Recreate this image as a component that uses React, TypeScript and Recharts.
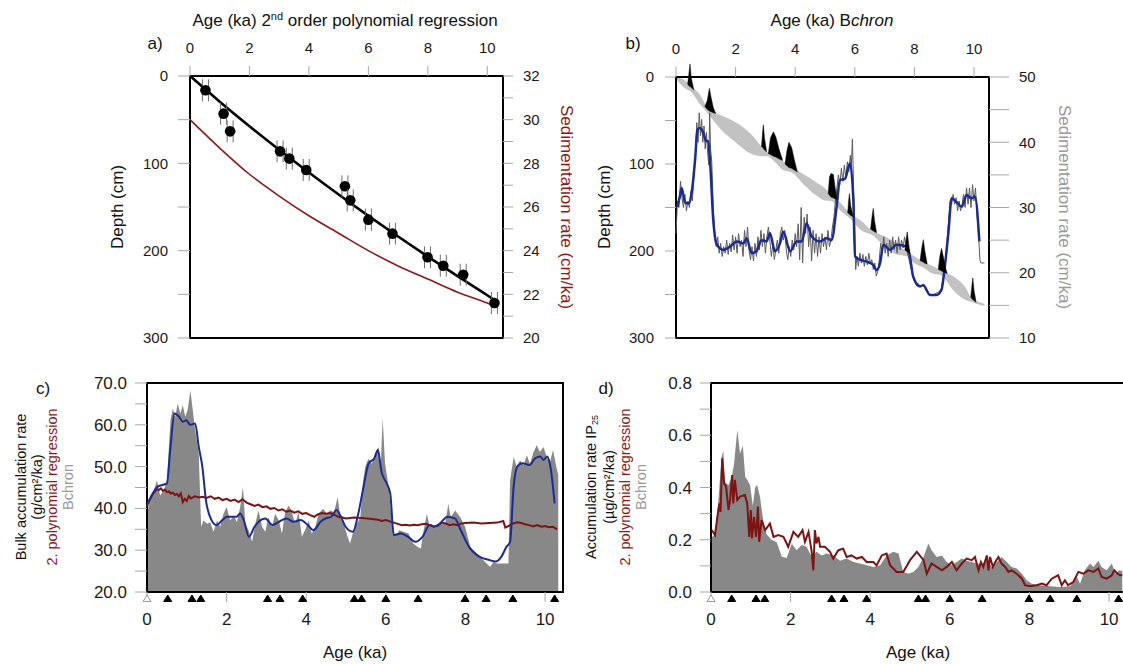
import React from 'react';
import { ComposedChart, Line, Area, XAxis, YAxis, ReferenceArea } from 'recharts';

// ---------------- DATA ----------------
// Panel a: dated levels (age ka, depth cm), 2nd-order polynomial fit, and its sedimentation rate
const datesAge = [0.52, 1.13, 1.35, 3.03, 3.34, 3.91, 5.21, 5.39, 6.0, 6.81, 7.99, 8.52, 9.19, 10.24];
const datesDepth = [16.4, 43.1, 63.4, 86.3, 94.6, 107.6, 126.3, 142.4, 164.5, 180.5, 207.6, 217.2, 227.5, 259.9];
const fitAge = [0, 1, 2, 3, 4, 5, 6, 7, 8, 9, 10, 10.33];
const fitDepth = [0, 29.4, 57.5, 84.5, 110.5, 135.7, 160.1, 183.8, 206.8, 229.2, 251, 258.6];
const polyRate = [30.0, 28.7, 27.5, 26.5, 25.6, 24.8, 24.0, 23.3, 22.7, 22.1, 21.6, 21.4];

// Panel b: Bchron age-depth envelope
const bandAge = [0, 0.3, 0.5, 0.8, 1.1, 1.5, 2.0, 2.5, 2.9, 3.05, 3.3, 3.6, 3.9, 4.3, 4.7, 5.0, 5.25, 5.5, 5.85, 6.2, 6.6, 7.0, 7.4, 7.75, 8.0, 8.3, 8.6, 8.9, 9.3, 9.7, 9.96, 10.2, 10.35];
const bandTop = [0, 4, 11, 20, 38, 44, 52, 65, 81, 86, 91, 97, 104, 112, 121, 128, 137, 144, 157, 165, 177, 183, 191, 201, 206, 213, 217, 223, 229, 241, 256, 259, 261];
const bandBottom = [2, 13, 17, 31, 43, 60, 75, 88, 91, 91, 97, 107, 110, 124, 136, 142, 143, 153, 163, 176, 182, 195, 204, 206, 214, 219, 226, 228, 245, 256, 259, 262, 263];

// Panel b: calibrated age probability peaks (age, base depth, peak depth)
const spikeAge = [
  [0.39, 0.43, 0.47, 0.51, 0.6],
  [0.97, 1.05, 1.12, 1.18, 1.25, 1.33],
  [2.87, 2.91, 2.93, 2.97, 3.04],
  [3.1, 3.17, 3.27, 3.35, 3.45, 3.58],
  [3.66, 3.72, 3.79, 3.88, 3.97, 4.07],
  [5.11, 5.15, 5.2, 5.28, 5.34, 5.41],
  [5.76, 5.8, 5.82, 5.86, 5.95],
  [6.53, 6.58, 6.62, 6.66, 6.73],
  [7.68, 7.73, 7.76, 7.8, 7.85],
  [8.19, 8.25, 8.3, 8.35, 8.43],
  [8.8, 8.86, 8.91, 8.98, 9.04, 9.1],
  [9.89, 9.93, 9.96, 10.0, 10.07],
];
const spikeBase = [
  [8, 10, 11, 12, 15],
  [34, 37, 39, 40, 41, 42],
  [80, 81, 82, 84, 86],
  [88, 89, 91, 92, 94, 96],
  [100, 102, 104, 105, 107, 109],
  [134, 136, 138, 139, 140, 141],
  [156, 157, 158, 159, 161],
  [175, 176, 177, 178, 179],
  [199, 200, 201, 202, 203],
  [211, 212, 213, 214, 215],
  [221, 222, 223, 224, 225, 226],
  [253, 255, 256, 257, 259],
];
const spikeTop = [
  [8, -3, -15, 1, 15],
  [34, 27, 13, 24, 35, 42],
  [80, 62, 55, 70, 86],
  [88, 70, 63, 69, 82, 96],
  [100, 85, 75, 81, 95, 109],
  [134, 115, 111, 112, 127, 141],
  [156, 140, 134, 148, 161],
  [175, 160, 151, 165, 179],
  [199, 185, 178, 190, 203],
  [211, 196, 187, 200, 215],
  [221, 205, 197, 208, 219, 226],
  [253, 240, 231, 245, 259],
];

// Panel b: Bchron sedimentation rate (raw) [age, cm/ka]
const bchronRateRaw: [number, number][] = [
  [0, 26], [0.05, 31], [0.1, 30], [0.15, 34], [0.2, 31.5], [0.25, 30], [0.3, 32], [0.35, 29.5], [0.4, 31], [0.45, 30], [0.5, 32.5], [0.55, 31], [0.6, 35], [0.65, 38], [0.7, 43], [0.74, 40], [0.78, 44.5], [0.82, 41], [0.86, 43.5], [0.9, 40], [0.94, 42.5], [0.98, 39], [1.02, 41.5], [1.06, 38.5], [1.1, 36.5], [1.13, 44.5], [1.16, 39], [1.2, 37], [1.25, 30], [1.3, 26], [1.35, 24], [1.4, 25.5], [1.45, 23], [1.5, 24.5], [1.55, 22.5], [1.6, 24], [1.65, 23], [1.7, 25], [1.75, 22.8], [1.8, 24.5], [1.85, 23.2], [1.9, 25.8], [1.95, 23.5], [2.0, 25.5], [2.05, 23], [2.1, 26], [2.15, 24], [2.2, 25], [2.25, 22.5], [2.3, 26.5], [2.35, 24], [2.4, 27], [2.45, 23.5], [2.5, 22], [2.55, 24], [2.6, 21.8], [2.65, 24.5], [2.7, 22.5], [2.75, 25.5], [2.8, 23.5], [2.85, 26.5], [2.9, 24], [2.95, 26], [3.0, 23], [3.05, 25.5], [3.1, 27], [3.15, 25], [3.2, 22.5], [3.25, 24.5], [3.3, 22], [3.35, 23.5], [3.4, 25], [3.45, 23], [3.5, 26], [3.55, 27], [3.6, 25], [3.65, 26.5], [3.7, 23.5], [3.75, 22], [3.8, 24], [3.85, 22.5], [3.9, 25], [3.95, 23.5], [4.0, 26], [4.05, 24], [4.1, 27.5], [4.15, 22], [4.2, 30], [4.25, 21.5], [4.3, 28.5], [4.35, 26], [4.4, 29], [4.45, 24], [4.5, 27], [4.55, 21.8], [4.6, 26.5], [4.65, 23], [4.7, 26], [4.75, 22.5], [4.8, 25.5], [4.85, 23], [4.9, 26], [4.95, 24], [5.0, 25.5], [5.05, 23.5], [5.1, 26.5], [5.15, 24], [5.2, 25], [5.25, 27], [5.3, 28.5], [5.35, 31], [5.4, 33], [5.45, 35], [5.5, 33.5], [5.55, 36], [5.6, 34], [5.65, 36.5], [5.7, 34.5], [5.75, 37], [5.8, 35.5], [5.85, 38], [5.88, 36], [5.92, 40.5], [5.96, 33], [6.0, 26], [6.03, 20.5], [6.07, 22.5], [6.12, 21], [6.17, 23], [6.22, 21.5], [6.27, 22.8], [6.32, 21], [6.37, 22.5], [6.42, 21.2], [6.47, 23], [6.52, 21.5], [6.57, 22], [6.62, 20.5], [6.67, 21.5], [6.72, 19.5], [6.77, 20.2], [6.82, 22], [6.87, 24.5], [6.92, 23], [6.97, 25.5], [7.02, 23], [7.07, 24.5], [7.12, 22.5], [7.17, 25], [7.22, 23], [7.27, 25.5], [7.32, 23.5], [7.37, 25], [7.42, 23], [7.47, 25.5], [7.52, 23.5], [7.57, 25], [7.62, 23.8], [7.67, 25.5], [7.72, 24], [7.77, 23], [7.82, 22], [7.87, 21], [7.92, 20], [7.97, 19], [8.02, 18.5], [8.07, 18], [8.12, 18.4], [8.2, 17.9], [8.3, 18.2], [8.4, 17.2], [8.5, 16.8], [8.6, 16.5], [8.7, 16.8], [8.8, 17], [8.9, 17.5], [9.0, 20], [9.08, 24], [9.15, 28], [9.2, 31], [9.25, 30.5], [9.3, 32], [9.35, 30.5], [9.4, 31.5], [9.45, 29.5], [9.5, 31], [9.55, 29.5], [9.6, 30.5], [9.65, 32], [9.7, 30], [9.75, 33], [9.8, 30.5], [9.85, 33], [9.9, 30], [9.95, 33.5], [10.0, 31], [10.05, 33], [10.1, 29], [10.15, 26], [10.2, 22], [10.23, 21.5], [10.35, 21.5],
];

// Panel b: smoothed Bchron sedimentation rate
const bchronSmoothAge = [0.04, 0.13, 0.19, 0.3, 0.42, 0.53, 0.64, 0.72, 0.8, 0.92, 1.01, 1.08, 1.14, 1.25, 1.37, 1.59, 1.81, 2.04, 2.26, 2.37, 2.54, 2.7, 2.87, 3.04, 3.15, 3.32, 3.49, 3.6, 3.83, 4.05, 4.22, 4.38, 4.55, 4.83, 5.06, 5.22, 5.39, 5.5, 5.67, 5.84, 5.95, 6.01, 6.17, 6.4, 6.62, 6.73, 6.85, 6.96, 7.18, 7.4, 7.74, 7.85, 7.96, 8.19, 8.3, 8.52, 8.74, 8.91, 9.02, 9.14, 9.25, 9.42, 9.59, 9.75, 9.92, 10.03, 10.18];
const bchronSmoothRate = [30.1, 31.7, 33.0, 30.8, 30.6, 32.4, 37.3, 41.9, 42.2, 41.4, 40.2, 40.2, 37.3, 28.1, 24.3, 23.5, 24.0, 24.8, 24.5, 25.3, 23.0, 23.3, 25.0, 24.8, 26.1, 23.3, 24.5, 26.3, 23.3, 24.8, 24.8, 27.6, 25.6, 24.8, 25.3, 25.0, 30.1, 34.2, 34.4, 36.8, 31.2, 22.5, 22.0, 21.7, 21.2, 20.4, 21.5, 24.3, 23.5, 24.3, 24.0, 22.5, 19.4, 17.9, 18.1, 16.6, 16.6, 17.4, 20.9, 26.1, 31.4, 30.8, 30.1, 31.9, 31.4, 31.7, 24.8];

// Panel c: bulk accumulation rate, Bchron (grey area)
const bulkBchron: [number, number][] = [
  [0, 38], [0.02, 39.5], [0.08, 42.7], [0.17, 44.3], [0.25, 46.7], [0.33, 43.1], [0.42, 44.3], [0.5, 46.7], [0.59, 61.1], [0.65, 63.9], [0.71, 61.9], [0.77, 65.1], [0.84, 62.7], [0.9, 64.7], [0.96, 61.9], [1.02, 63.5], [1.09, 68.2], [1.15, 63.5], [1.21, 58.7], [1.3, 53.1], [1.36, 35.6], [1.42, 37.1], [1.51, 36.3], [1.59, 36.7], [1.67, 34.4], [1.76, 37.1], [1.84, 35.6], [1.92, 38.7], [2.0, 40.3], [2.09, 37.1], [2.18, 38.3], [2.26, 36.7], [2.34, 40.3], [2.41, 45.1], [2.47, 36.3], [2.55, 34.8], [2.64, 32.0], [2.72, 36.3], [2.8, 39.5], [2.89, 35.6], [2.97, 34.4], [3.05, 37.9], [3.14, 35.6], [3.22, 38.7], [3.31, 37.1], [3.39, 34.0], [3.47, 39.1], [3.56, 40.7], [3.64, 39.1], [3.72, 36.3], [3.81, 39.1], [3.89, 33.2], [3.97, 34.8], [4.06, 37.1], [4.14, 34.0], [4.23, 35.6], [4.31, 38.7], [4.42, 39.9], [4.52, 38.7], [4.6, 39.5], [4.7, 39.1], [4.79, 42.7], [4.85, 38.3], [4.94, 36.3], [5.04, 33.2], [5.1, 31.6], [5.19, 34.8], [5.27, 36.3], [5.36, 37.9], [5.42, 45.9], [5.48, 49.9], [5.56, 51.9], [5.65, 50.7], [5.73, 53.1], [5.82, 54.7], [5.87, 49.9], [5.92, 61.5], [5.98, 50.7], [6.07, 45.1], [6.15, 37.1], [6.23, 33.2], [6.34, 34.8], [6.44, 34.4], [6.57, 34.0], [6.69, 31.6], [6.79, 30.8], [6.88, 30.4], [6.95, 34.8], [7.03, 38.7], [7.1, 35.6], [7.15, 36.3], [7.24, 35.2], [7.36, 36.3], [7.49, 36.3], [7.57, 41.1], [7.63, 37.9], [7.74, 39.5], [7.87, 37.9], [7.99, 35.6], [8.12, 30.8], [8.28, 29.2], [8.45, 27.6], [8.62, 26.0], [8.7, 27.2], [8.79, 26.8], [8.91, 26.8], [9.08, 26.8], [9.12, 46.7], [9.21, 52.3], [9.29, 49.9], [9.37, 51.5], [9.46, 50.3], [9.54, 52.7], [9.62, 50.7], [9.71, 53.5], [9.79, 55.1], [9.87, 53.5], [9.96, 54.7], [10.04, 52.3], [10.12, 51.0], [10.2, 54.0], [10.28, 50.0], [10.33, 48.0],
];

// Panel c: bulk accumulation rate, smoothed Bchron (blue)
const bulkSmoothAge = [0.02, 0.27, 0.5, 0.59, 0.69, 0.81, 0.9, 0.99, 1.08, 1.21, 1.3, 1.39, 1.48, 1.62, 1.75, 1.89, 2.02, 2.25, 2.34, 2.43, 2.56, 2.7, 2.97, 3.15, 3.32, 3.5, 3.68, 3.86, 4.04, 4.18, 4.36, 4.49, 4.63, 4.76, 4.85, 4.99, 5.17, 5.3, 5.44, 5.57, 5.71, 5.8, 5.89, 6.02, 6.11, 6.2, 6.38, 6.56, 6.74, 6.92, 7.1, 7.23, 7.36, 7.55, 7.73, 7.9, 8.09, 8.36, 8.58, 8.76, 8.9, 9.03, 9.12, 9.21, 9.3, 9.43, 9.61, 9.75, 9.88, 9.96, 10.05, 10.14, 10.24];
const bulkSmoothVal = [41.2, 45.2, 46.0, 54.7, 62.7, 61.9, 60.7, 61.1, 60.0, 60.3, 54.7, 50.0, 42.0, 37.2, 36.0, 37.2, 38.0, 38.0, 38.8, 37.2, 33.2, 35.6, 37.6, 36.0, 36.8, 37.6, 36.8, 37.2, 36.0, 34.8, 36.8, 37.6, 38.0, 39.6, 38.4, 35.6, 34.4, 38.4, 45.2, 50.8, 52.0, 54.0, 48.8, 46.0, 43.6, 33.6, 34.0, 33.2, 32.0, 33.2, 36.0, 35.6, 36.4, 38.0, 37.6, 34.4, 30.8, 28.4, 27.7, 27.3, 28.4, 30.8, 32.0, 45.2, 50.0, 50.8, 50.4, 52.0, 52.4, 51.6, 52.4, 49.6, 41.2];

// Panel c: bulk accumulation rate, 2nd order polynomial (dark red)
const bulkPoly: [number, number][] = [
  [0, 40.5], [0.05, 41.8], [0.1, 42.6], [0.15, 43.5], [0.2, 44.0], [0.25, 44.6], [0.3, 44.4], [0.35, 44.8], [0.4, 44.2], [0.45, 44.5], [0.5, 43.9], [0.55, 44.1], [0.6, 43.5], [0.65, 43.8], [0.7, 43.2], [0.75, 43.5], [0.8, 42.9], [0.85, 43.6], [0.9, 41.5], [0.95, 42.3], [1.0, 41.8], [1.05, 43.0], [1.1, 42.4], [1.2, 42.9], [1.3, 42.6], [1.4, 42.8], [1.5, 42.5], [1.6, 42.9], [1.7, 42.3], [1.8, 42.6], [1.9, 42.0], [2.0, 42.3], [2.1, 41.8], [2.2, 42.1], [2.3, 41.5], [2.4, 42.2], [2.5, 41.4], [2.6, 41.0], [2.7, 40.6], [2.8, 40.9], [2.9, 40.3], [3.0, 40.5], [3.1, 39.9], [3.2, 40.1], [3.3, 39.5], [3.4, 39.8], [3.5, 39.2], [3.6, 39.5], [3.7, 39.0], [3.8, 39.3], [3.9, 38.7], [4.0, 38.9], [4.1, 38.4], [4.2, 38.0], [4.3, 38.6], [4.4, 38.9], [4.5, 38.7], [4.6, 38.9], [4.7, 38.5], [4.8, 38.0], [4.9, 37.8], [5.0, 37.6], [5.2, 37.8], [5.4, 37.7], [5.6, 37.5], [5.8, 37.3], [5.9, 37.0], [6.0, 37.2], [6.1, 36.9], [6.2, 36.6], [6.3, 36.3], [6.4, 36.0], [6.5, 36.1], [6.6, 35.9], [6.7, 36.1], [6.8, 36.0], [6.9, 36.2], [7.0, 36.3], [7.1, 36.0], [7.2, 35.6], [7.3, 35.9], [7.4, 36.6], [7.5, 36.4], [7.6, 36.0], [7.7, 36.2], [7.8, 36.0], [7.9, 36.4], [8.0, 36.5], [8.2, 36.6], [8.4, 36.4], [8.6, 36.5], [8.8, 36.6], [8.95, 37.0], [9.0, 35.4], [9.1, 35.9], [9.2, 36.4], [9.3, 36.7], [9.4, 36.5], [9.5, 36.2], [9.6, 36.0], [9.7, 35.7], [9.8, 36.0], [9.9, 35.6], [10.0, 35.8], [10.1, 35.5], [10.2, 35.6], [10.3, 35.0],
];

// Panel d: IP25 accumulation rate, Bchron (grey area)
const ipBchron: [number, number][] = [
  [0, 0.21], [0.02, 0.21], [0.1, 0.22], [0.18, 0.34], [0.27, 0.52], [0.31, 0.54], [0.35, 0.42], [0.44, 0.41], [0.52, 0.44], [0.58, 0.49], [0.66, 0.62], [0.73, 0.53], [0.8, 0.56], [0.86, 0.44], [0.91, 0.43], [0.98, 0.41], [1.05, 0.33], [1.11, 0.40], [1.16, 0.41], [1.23, 0.365], [1.31, 0.275], [1.4, 0.22], [1.52, 0.2], [1.65, 0.19], [1.78, 0.135], [1.9, 0.13], [2.03, 0.185], [2.15, 0.16], [2.28, 0.18], [2.4, 0.173], [2.53, 0.135], [2.65, 0.154], [2.78, 0.14], [2.91, 0.147], [3.07, 0.14], [3.24, 0.12], [3.41, 0.128], [3.58, 0.115], [3.74, 0.109], [3.91, 0.102], [4.08, 0.096], [4.25, 0.102], [4.41, 0.14], [4.58, 0.154], [4.71, 0.147], [4.83, 0.077], [4.96, 0.07], [5.08, 0.077], [5.21, 0.096], [5.34, 0.134], [5.46, 0.186], [5.54, 0.16], [5.67, 0.134], [5.8, 0.14], [5.92, 0.115], [6.05, 0.102], [6.17, 0.115], [6.3, 0.128], [6.42, 0.12], [6.55, 0.115], [6.68, 0.109], [6.8, 0.102], [6.93, 0.128], [7.05, 0.096], [7.18, 0.115], [7.3, 0.134], [7.43, 0.115], [7.55, 0.096], [7.68, 0.09], [7.81, 0.07], [7.93, 0.045], [8.06, 0.032], [8.27, 0.026], [8.52, 0.022], [8.77, 0.019], [9.02, 0.022], [9.19, 0.058], [9.27, 0.032], [9.39, 0.083], [9.52, 0.109], [9.61, 0.096], [9.73, 0.12], [9.81, 0.096], [9.94, 0.083], [10.07, 0.109], [10.15, 0.07], [10.26, 0.083], [10.33, 0.08],
];

// Panel d: IP25 accumulation rate, polynomial (dark red)
const ipPoly: [number, number][] = [
  [0.02, 0.237], [0.1, 0.218], [0.16, 0.288], [0.21, 0.339], [0.24, 0.307], [0.28, 0.512], [0.33, 0.416], [0.38, 0.403], [0.44, 0.314], [0.48, 0.352], [0.53, 0.448], [0.56, 0.339], [0.6, 0.429], [0.66, 0.352], [0.73, 0.365], [0.85, 0.371], [0.91, 0.339], [0.96, 0.211], [1.0, 0.314], [1.03, 0.205], [1.08, 0.288], [1.13, 0.211], [1.18, 0.327], [1.21, 0.192], [1.27, 0.275], [1.36, 0.237], [1.48, 0.262], [1.57, 0.211], [1.69, 0.218], [1.82, 0.211], [1.94, 0.173], [2.07, 0.23], [2.19, 0.211], [2.3, 0.237], [2.36, 0.192], [2.45, 0.23], [2.53, 0.154], [2.57, 0.083], [2.61, 0.237], [2.65, 0.186], [2.7, 0.211], [2.74, 0.173], [2.86, 0.173], [2.99, 0.154], [3.07, 0.128], [3.2, 0.16], [3.32, 0.166], [3.41, 0.134], [3.53, 0.14], [3.66, 0.128], [3.79, 0.134], [3.91, 0.115], [4.08, 0.115], [4.16, 0.102], [4.29, 0.14], [4.41, 0.147], [4.5, 0.102], [4.58, 0.09], [4.66, 0.077], [4.83, 0.077], [5.0, 0.122], [5.17, 0.154], [5.34, 0.122], [5.42, 0.07], [5.54, 0.109], [5.67, 0.096], [5.8, 0.083], [5.92, 0.096], [6.05, 0.115], [6.17, 0.083], [6.3, 0.109], [6.42, 0.128], [6.55, 0.122], [6.63, 0.134], [6.72, 0.083], [6.78, 0.115], [6.84, 0.096], [6.93, 0.14], [6.97, 0.083], [7.01, 0.134], [7.08, 0.096], [7.14, 0.115], [7.22, 0.134], [7.3, 0.109], [7.39, 0.096], [7.47, 0.077], [7.55, 0.083], [7.68, 0.07], [7.81, 0.051], [7.89, 0.026], [8.01, 0.022], [8.18, 0.026], [8.31, 0.032], [8.43, 0.026], [8.56, 0.051], [8.72, 0.064], [8.81, 0.026], [8.89, 0.045], [8.97, 0.026], [9.1, 0.038], [9.23, 0.077], [9.35, 0.07], [9.48, 0.083], [9.61, 0.077], [9.73, 0.09], [9.81, 0.058], [9.94, 0.051], [10.07, 0.064], [10.13, 0.083], [10.21, 0.07], [10.28, 0.064], [10.33, 0.065],
];

// Tick values
const ageTicks = [0, 2, 4, 6, 8, 10];
const depthTicks = [0, 50, 100, 150, 200, 250, 300];
const rateTicksA = [20, 21, 22, 23, 24, 25, 26, 27, 28, 29, 30, 31, 32];
const rateTicksB = [10, 15, 20, 25, 30, 35, 40, 45, 50];
const bulkTicks = [20, 25, 30, 35, 40, 45, 50, 55, 60, 65, 70];
const ipTicks = [0, 0.1, 0.2, 0.3, 0.4, 0.5, 0.6, 0.7, 0.8];

// ---------------- BUILD ----------------
const pairs = (xs: number[], ys: number[]) => xs.map((x, i) => ({ age: x, v: ys[i] }));
const fromPairs = (p: [number, number][]) => p.map(([a, v]) => ({ age: a, v }));

const datesData = pairs(datesAge, datesDepth);
const fitData = pairs(fitAge, fitDepth);
const polyRateData = pairs(fitAge, polyRate);
const bandData = bandAge.map((a, i) => ({ age: a, r: [bandTop[i], bandBottom[i]] }));
const spikeData = spikeAge.map((ages, k) => ages.map((a, i) => ({ age: a, r: [spikeTop[k][i], spikeBase[k][i]] })));
const bRawData = fromPairs(bchronRateRaw);
const bSmoothData = pairs(bchronSmoothAge, bchronSmoothRate);
const bulkBchronData = fromPairs(bulkBchron);
const bulkSmoothData = pairs(bulkSmoothAge, bulkSmoothVal);
const bulkPolyData = fromPairs(bulkPoly);
const ipBchronData = fromPairs(ipBchron);
const ipPolyData = fromPairs(ipPoly);
const triC = datesAge.map((a) => ({ age: a, v: 20 }));
const triD = datesAge.map((a) => ({ age: a, v: 0 }));

// ---------------- STYLE ----------------
const FONT = "'Liberation Sans', Arial, Helvetica, sans-serif";
const TICK_LINE = { stroke: '#a8a8a8', strokeWidth: 1 };
const RED = '#7d1414';
const BLUE = '#1c2b8e';
const GREY_AREA = '#888888';

const DatePoint = (p: any) => {
  const { cx, cy } = p;
  if (cx == null || cy == null) return <g />;
  return (
    <g>
      <line x1={cx - 3} x2={cx - 3} y1={cy - 11} y2={cy + 11} stroke="#6f6f6f" strokeWidth={1} />
      <line x1={cx + 3} x2={cx + 3} y1={cy - 11} y2={cy + 11} stroke="#6f6f6f" strokeWidth={1} />
      <circle cx={cx} cy={cy} r={5.3} fill="#000" />
    </g>
  );
};

const Tri = (p: any) => {
  const { cx, cy, open } = p;
  if (cx == null || cy == null) return <g />;
  return (
    <path
      d={`M${cx - 4},${cy + 9.5} L${cx + 4},${cy + 9.5} L${cx},${cy + 3} Z`}
      fill={open ? '#fff' : '#000'}
      stroke={open ? '#9a9a9a' : '#000'}
      strokeWidth={1}
    />
  );
};

const pos = (left: number, top: number): React.CSSProperties => ({ position: 'absolute', left, top });

export default function App() {
  // Panel geometry
  const A = { left: 0, top: 0, w: 600, h: 345, L: 190, R: 503, T: 76, B: 338 };
  const Bp = { left: 560, top: 0, w: 540, h: 345, L: 676, R: 989, T: 77, B: 338 };
  const C = { left: 0, top: 360, w: 600, h: 300, L: 147, R: 563, T: 383, B: 592 };
  const D = { left: 560, top: 360, w: 600, h: 300, L: 711, R: 1127, T: 383, B: 592 };
  const axA = (A.R - A.L) / 29.73;
  const axB = (Bp.R - Bp.L) / 29.8;
  const axC = 10.45;
  const spikeTopDomain = -40;
  const ovTop = Bp.B - (300 - spikeTopDomain) * ((Bp.B - Bp.T) / 300);

  const tickA = { fill: '#1a1a1a', fontSize: 15 };
  const tickC = { fill: '#1a1a1a', fontSize: 17 };

  return (
    <div style={{ position: 'fixed', left: 0, top: 0, width: 1123, height: 664, overflow: 'hidden', background: '#fff', fontFamily: FONT }}>
      {/* Panel a */}
      <div style={pos(A.left, A.top)}>
        <ComposedChart width={A.w} height={A.h} margin={{ top: 0, right: A.left + A.w - A.R - 60, bottom: A.top + A.h - A.B, left: 0 }}>
          <XAxis xAxisId="x" type="number" dataKey="age" orientation="top" domain={[0, axA]} ticks={ageTicks} interval={0}
            height={A.T - A.top} axisLine={false} tickLine={TICK_LINE} tickSize={10} tickMargin={13} tick={tickA} />
          <YAxis yAxisId="depth" type="number" domain={[0, 300]} reversed ticks={depthTicks} interval={0} width={A.L - A.left}
            axisLine={false} tickLine={TICK_LINE} tickSize={12} tickMargin={10} tick={tickA}
            tickFormatter={(v: number) => (v % 100 === 0 ? String(v) : '')} />
          <YAxis yAxisId="rate" orientation="right" type="number" domain={[20, 32]} ticks={rateTicksA} interval={0} width={60}
            axisLine={false} tickLine={TICK_LINE} tickSize={10} tickMargin={10} tick={tickA}
            tickFormatter={(v: number) => (v % 2 === 0 ? String(v) : '')} />
          <Line xAxisId="x" yAxisId="rate" data={polyRateData} dataKey="v" type="monotone" stroke="#8b1a1a" strokeWidth={1.6} dot={false} activeDot={false} isAnimationActive={false} />
          <Line xAxisId="x" yAxisId="depth" data={fitData} dataKey="v" type="monotone" stroke="#000" strokeWidth={2.6} dot={false} activeDot={false} isAnimationActive={false} />
          <Line xAxisId="x" yAxisId="depth" data={datesData} dataKey="v" stroke="none" activeDot={false} isAnimationActive={false}
            dot={(p: any) => <DatePoint key={`dp-${p.index}`} cx={p.cx} cy={p.cy} />} />
          <ReferenceArea xAxisId="x" yAxisId="depth" x1={0} x2={axA} y1={0} y2={300} fill="none" stroke="#000" strokeWidth={2} />
        </ComposedChart>
      </div>

      {/* Panel b */}
      <div style={pos(Bp.left, Bp.top)}>
        <ComposedChart width={Bp.w} height={Bp.h} margin={{ top: 0, right: Bp.left + Bp.w - Bp.R - 60, bottom: Bp.top + Bp.h - Bp.B, left: 0 }}>
          <XAxis xAxisId="x" type="number" dataKey="age" orientation="top" domain={[0, axB]} ticks={ageTicks} interval={0}
            height={Bp.T - Bp.top} axisLine={false} tickLine={TICK_LINE} tickSize={10} tickMargin={13} tick={tickA} />
          <YAxis yAxisId="depth" type="number" domain={[0, 300]} reversed ticks={depthTicks} interval={0} width={Bp.L - Bp.left}
            axisLine={false} tickLine={TICK_LINE} tickSize={11} tickMargin={11} tick={tickA}
            tickFormatter={(v: number) => (v % 100 === 0 ? String(v) : '')} />
          <YAxis yAxisId="rate" orientation="right" type="number" domain={[10, 50]} ticks={rateTicksB} interval={0} width={60}
            axisLine={false} tickLine={TICK_LINE} tickSize={20} tickMargin={10} tick={tickA}
            tickFormatter={(v: number) => (v % 10 === 0 ? String(v) : '')} />
          <Area xAxisId="x" yAxisId="depth" data={bandData} dataKey="r" type="monotone" stroke="none" fill="#c2c2c2" fillOpacity={1} activeDot={false} isAnimationActive={false} />
          <Line xAxisId="x" yAxisId="rate" data={bRawData} dataKey="v" type="linear" stroke="#5a5a5a" strokeWidth={1} dot={false} activeDot={false} isAnimationActive={false} />
          <Line xAxisId="x" yAxisId="rate" data={bSmoothData} dataKey="v" type="monotone" stroke={BLUE} strokeWidth={2.5} dot={false} activeDot={false} isAnimationActive={false} />
          <ReferenceArea xAxisId="x" yAxisId="depth" x1={0} x2={axB} y1={0} y2={300} fill="none" stroke="#000" strokeWidth={2} />
        </ComposedChart>
      </div>

      {/* Panel b overlay: age probability peaks (allowed to poke above the frame) */}
      <div style={{ ...pos(Bp.left, Bp.top), pointerEvents: 'none' }}>
        <ComposedChart width={Bp.w} height={Bp.h} margin={{ top: ovTop - Bp.top, right: Bp.left + Bp.w - Bp.R, bottom: Bp.top + Bp.h - Bp.B, left: Bp.L - Bp.left }}>
          <XAxis xAxisId="x" type="number" dataKey="age" domain={[0, axB]} hide />
          <YAxis yAxisId="d" type="number" domain={[spikeTopDomain, 300]} reversed hide />
          {spikeData.map((sd, k) => (
            <Area key={`spk-${k}`} xAxisId="x" yAxisId="d" data={sd} dataKey="r" type="linear" stroke="#000" strokeWidth={0.5} fill="#000" fillOpacity={1} activeDot={false} isAnimationActive={false} />
          ))}
        </ComposedChart>
      </div>

      {/* Panel c */}
      <div style={pos(C.left, C.top)}>
        <ComposedChart width={C.w} height={C.h} margin={{ top: C.T - C.top, right: C.left + C.w - C.R, bottom: C.top + C.h - C.B - 60, left: 0 }}>
          <XAxis xAxisId="x" type="number" dataKey="age" domain={[0, axC]} ticks={ageTicks} interval={0} height={60}
            axisLine={false} tickLine={TICK_LINE} tickSize={10} tickMargin={11} tick={tickC} />
          <YAxis yAxisId="y" type="number" domain={[20, 70]} ticks={bulkTicks} interval={0} width={C.L - C.left}
            axisLine={false} tickLine={TICK_LINE} tickSize={12} tickMargin={8} tick={tickC}
            tickFormatter={(v: number) => (v % 10 === 0 ? v.toFixed(1) : '')} />
          <Area xAxisId="x" yAxisId="y" data={bulkBchronData} dataKey="v" type="linear" stroke="none" fill={GREY_AREA} fillOpacity={1} activeDot={false} isAnimationActive={false} />
          <Line xAxisId="x" yAxisId="y" data={bulkPolyData} dataKey="v" type="linear" stroke={RED} strokeWidth={2} dot={false} activeDot={false} isAnimationActive={false} />
          <Line xAxisId="x" yAxisId="y" data={bulkSmoothData} dataKey="v" type="monotone" stroke={BLUE} strokeWidth={2} dot={false} activeDot={false} isAnimationActive={false} />
          <ReferenceArea xAxisId="x" yAxisId="y" x1={0} x2={axC} y1={20} y2={70} fill="none" stroke="#000" strokeWidth={2} />
          <Line xAxisId="x" yAxisId="y" data={triC} dataKey="v" stroke="none" activeDot={false} isAnimationActive={false}
            dot={(p: any) => <Tri key={`tc-${p.index}`} cx={p.cx} cy={p.cy} />} />
          <Line xAxisId="x" yAxisId="y" data={[{ age: 0, v: 20 }]} dataKey="v" stroke="none" activeDot={false} isAnimationActive={false}
            dot={(p: any) => <Tri key={`tco-${p.index}`} cx={p.cx} cy={p.cy} open />} />
        </ComposedChart>
      </div>

      {/* Panel d */}
      <div style={pos(D.left, D.top)}>
        <ComposedChart width={D.w} height={D.h} margin={{ top: D.T - D.top, right: D.left + D.w - D.R, bottom: D.top + D.h - D.B - 60, left: 0 }}>
          <XAxis xAxisId="x" type="number" dataKey="age" domain={[0, axC]} ticks={ageTicks} interval={0} height={60}
            axisLine={false} tickLine={TICK_LINE} tickSize={10} tickMargin={11} tick={tickC} />
          <YAxis yAxisId="y" type="number" domain={[0, 0.8]} ticks={ipTicks} interval={0} width={D.L - D.left}
            axisLine={false} tickLine={TICK_LINE} tickSize={11} tickMargin={8} tick={tickC}
            tickFormatter={(v: number) => (Math.round(v * 10) % 2 === 0 ? v.toFixed(1) : '')} />
          <Area xAxisId="x" yAxisId="y" data={ipBchronData} dataKey="v" type="linear" stroke="none" fill={GREY_AREA} fillOpacity={1} activeDot={false} isAnimationActive={false} />
          <Line xAxisId="x" yAxisId="y" data={ipPolyData} dataKey="v" type="linear" stroke={RED} strokeWidth={2} dot={false} activeDot={false} isAnimationActive={false} />
          <ReferenceArea xAxisId="x" yAxisId="y" x1={0} x2={axC} y1={0} y2={0.8} fill="none" stroke="#000" strokeWidth={2} />
          <Line xAxisId="x" yAxisId="y" data={triD} dataKey="v" stroke="none" activeDot={false} isAnimationActive={false}
            dot={(p: any) => <Tri key={`td-${p.index}`} cx={p.cx} cy={p.cy} />} />
          <Line xAxisId="x" yAxisId="y" data={[{ age: 0, v: 0 }]} dataKey="v" stroke="none" activeDot={false} isAnimationActive={false}
            dot={(p: any) => <Tri key={`tdo-${p.index}`} cx={p.cx} cy={p.cy} open />} />
        </ComposedChart>
      </div>

      {/* Text annotations */}
      <svg width={1123} height={664} style={{ position: 'absolute', left: 0, top: 0, pointerEvents: 'none' }} fontFamily={FONT}>
        <text x={345} y={26} textAnchor="middle" fontSize={17} fill="#111">
          Age (ka) 2<tspan fontSize={11} dy={-6}>nd</tspan><tspan dy={6}> order polynomial regression</tspan>
        </text>
        <text x={832} y={26} textAnchor="middle" fontSize={17} fill="#111">
          Age (ka) B<tspan fontStyle="italic">chron</tspan>
        </text>
        <text x={155} y={49} textAnchor="middle" fontSize={17} fill="#111">a)</text>
        <text x={633} y={49} textAnchor="middle" fontSize={17} fill="#111">b)</text>
        <text x={43} y={394} textAnchor="middle" fontSize={17} fill="#111">c)</text>
        <text x={606} y={394} textAnchor="middle" fontSize={17} fill="#111">d)</text>

        <text transform="translate(117,207) rotate(-90)" textAnchor="middle" dominantBaseline="central" fontSize={17} fill="#111">Depth (cm)</text>
        <text transform="translate(604,207) rotate(-90)" textAnchor="middle" dominantBaseline="central" fontSize={17} fill="#111">Depth (cm)</text>
        <text transform="translate(566,207) rotate(90)" textAnchor="middle" dominantBaseline="central" fontSize={17} fill="#8b1a1a">Sedimentation rate (cm/ka)</text>
        <text transform="translate(1064,207) rotate(90)" textAnchor="middle" dominantBaseline="central" fontSize={17} fill="#9a9a9a">Sedimentation rate (cm/ka)</text>

        <text transform="translate(21,487) rotate(-90)" textAnchor="middle" dominantBaseline="central" fontSize={14.5} fill="#111">Bulk accumulation rate</text>
        <text transform="translate(37,487) rotate(-90)" textAnchor="middle" dominantBaseline="central" fontSize={14.5} fill="#111">(g/cm²/ka)</text>
        <text transform="translate(52,487) rotate(-90)" textAnchor="middle" dominantBaseline="central" fontSize={14.5} fill="#8b1a1a">2. polynomial regression</text>
        <text transform="translate(68,487) rotate(-90)" textAnchor="middle" dominantBaseline="central" fontSize={14.5} fill="#9a9a9a">Bchron</text>

        <text transform="translate(591,487) rotate(-90)" textAnchor="middle" dominantBaseline="central" fontSize={14.5} fill="#111">
          Accumulation rate IP<tspan fontSize={9} dy={4}>25</tspan>
        </text>
        <text transform="translate(609,487) rotate(-90)" textAnchor="middle" dominantBaseline="central" fontSize={14.5} fill="#111">(µg/cm²/ka)</text>
        <text transform="translate(625,487) rotate(-90)" textAnchor="middle" dominantBaseline="central" fontSize={14.5} fill="#8b1a1a">2. polynomial regression</text>
        <text transform="translate(641,487) rotate(-90)" textAnchor="middle" dominantBaseline="central" fontSize={14.5} fill="#9a9a9a">Bchron</text>

        <text x={355} y={658} textAnchor="middle" fontSize={17} fill="#111">Age (ka)</text>
        <text x={918} y={658} textAnchor="middle" fontSize={17} fill="#111">Age (ka)</text>
      </svg>
    </div>
  );
}
